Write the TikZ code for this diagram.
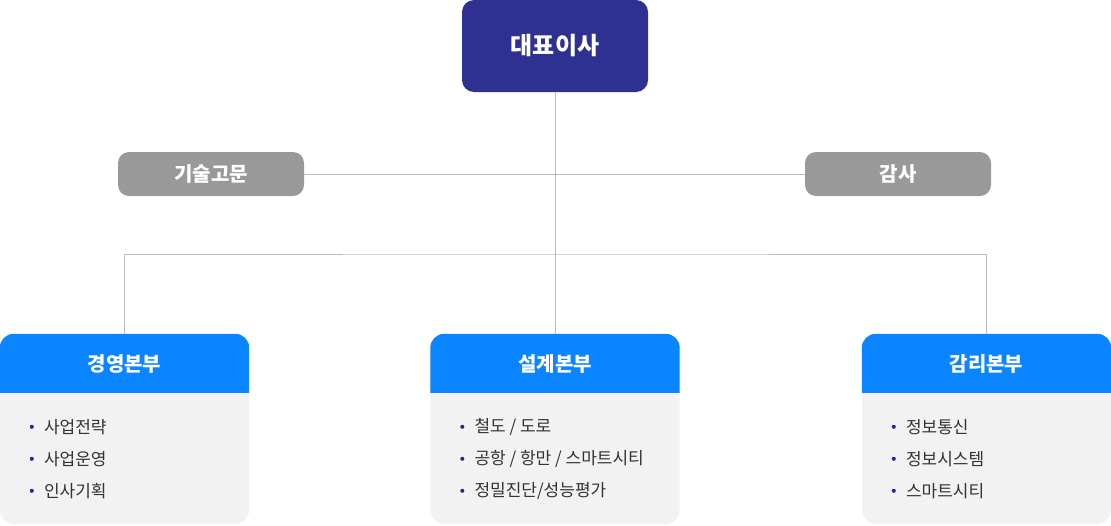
\documentclass[tikz,border=0pt]{standalone}
\usepackage{fontspec}
\setmainfont{Noto Sans CJK KR}
\usepackage{tikz}
\usetikzlibrary{positioning}
\definecolor{ceoblue}{HTML}{2E3192}
\definecolor{staffgray}{HTML}{999999}
\definecolor{headblue}{HTML}{0A84FF}
\definecolor{bodygray}{HTML}{F2F2F2}
\definecolor{linegray}{HTML}{BBBBBB}
\definecolor{dotblue}{HTML}{1B2A8C}
\definecolor{itemtext}{HTML}{333333}

\begin{document}
\begin{tikzpicture}[
  x=1pt, y=-1pt,
  ceo/.style={fill=ceoblue, rounded corners=12pt, minimum width=186pt, minimum height=92pt,
    text=white, font=\fontsize{24}{28}\selectfont\bfseries},
  staff/.style={fill=staffgray, rounded corners=11pt, minimum width=186pt, minimum height=44pt,
    text=white, font=\fontsize{20}{24}\selectfont\bfseries},
  divbody/.style={fill=bodygray, rounded corners=14pt, minimum width=249pt, minimum height=190pt, inner sep=0pt},
  divtitle/.style={text=white, font=\fontsize{20}{24}\selectfont\bfseries},
  item/.style={anchor=west, inner sep=0pt, text=itemtext, font=\fontsize{17}{21}\selectfont},
  link/.style={draw=linegray, line width=1pt},
]
  \useasboundingbox (0,0) rectangle (1111,525);

  % Top of the chart
  \node[ceo] (ceo) at (555,46) {대표이사};
  \node[staff] (advisor) at (211,174) {기술고문};
  \node[staff] (audit) at (898,174) {감사};

  % Division boxes
  \node[divbody] (mgmt) at (124.5,429) {};
  \node[divbody] (design) at (555,429) {};
  \node[divbody] (super) at (986.5,429) {};

  % Blue headers, rounded on top only
  \foreach \d/\name in {mgmt/경영본부, design/설계본부, super/감리본부} {
    \fill[headblue] ([yshift=-59pt]\d.north west) -- ([yshift=-14pt]\d.north west)
      arc[start angle=180, end angle=90, radius=14pt] -- ([xshift=-14pt]\d.north east)
      arc[start angle=90, end angle=0, radius=14pt] -- ([yshift=-59pt]\d.north east) -- cycle;
    \node[divtitle] (\d-title) at ([yshift=-30pt]\d.north) {\name};
  }

  % Connectors
  \coordinate (branch) at (555,254);
  \draw[link] (ceo) -- (design);
  \draw[link] (advisor) -- (audit);
  \draw[link] (mgmt.north) |- (branch) -| (super.north);

  % List items
  \foreach \i/\txt in {0/사업전략, 1/사업운영, 2/인사기획} {
    \node[item] (mgmt-\i) at ([xshift=44pt, yshift={-(93+32*\i)*1pt}]mgmt.north west) {\txt};
    \fill[dotblue] ([xshift=-12pt]mgmt-\i.west) circle (2pt);
  }
  \foreach \i/\txt in {0/{철도 / 도로}, 1/{공항 / 항만 / 스마트시티}, 2/{정밀진단/성능평가}} {
    \node[item] (design-\i) at ([xshift=44pt, yshift={-(93+32*\i)*1pt}]design.north west) {\txt};
    \fill[dotblue] ([xshift=-12pt]design-\i.west) circle (2pt);
  }
  \foreach \i/\txt in {0/정보통신, 1/정보시스템, 2/스마트시티} {
    \node[item] (super-\i) at ([xshift=44pt, yshift={-(93+32*\i)*1pt}]super.north west) {\txt};
    \fill[dotblue] ([xshift=-12pt]super-\i.west) circle (2pt);
  }
\end{tikzpicture}
\end{document}
